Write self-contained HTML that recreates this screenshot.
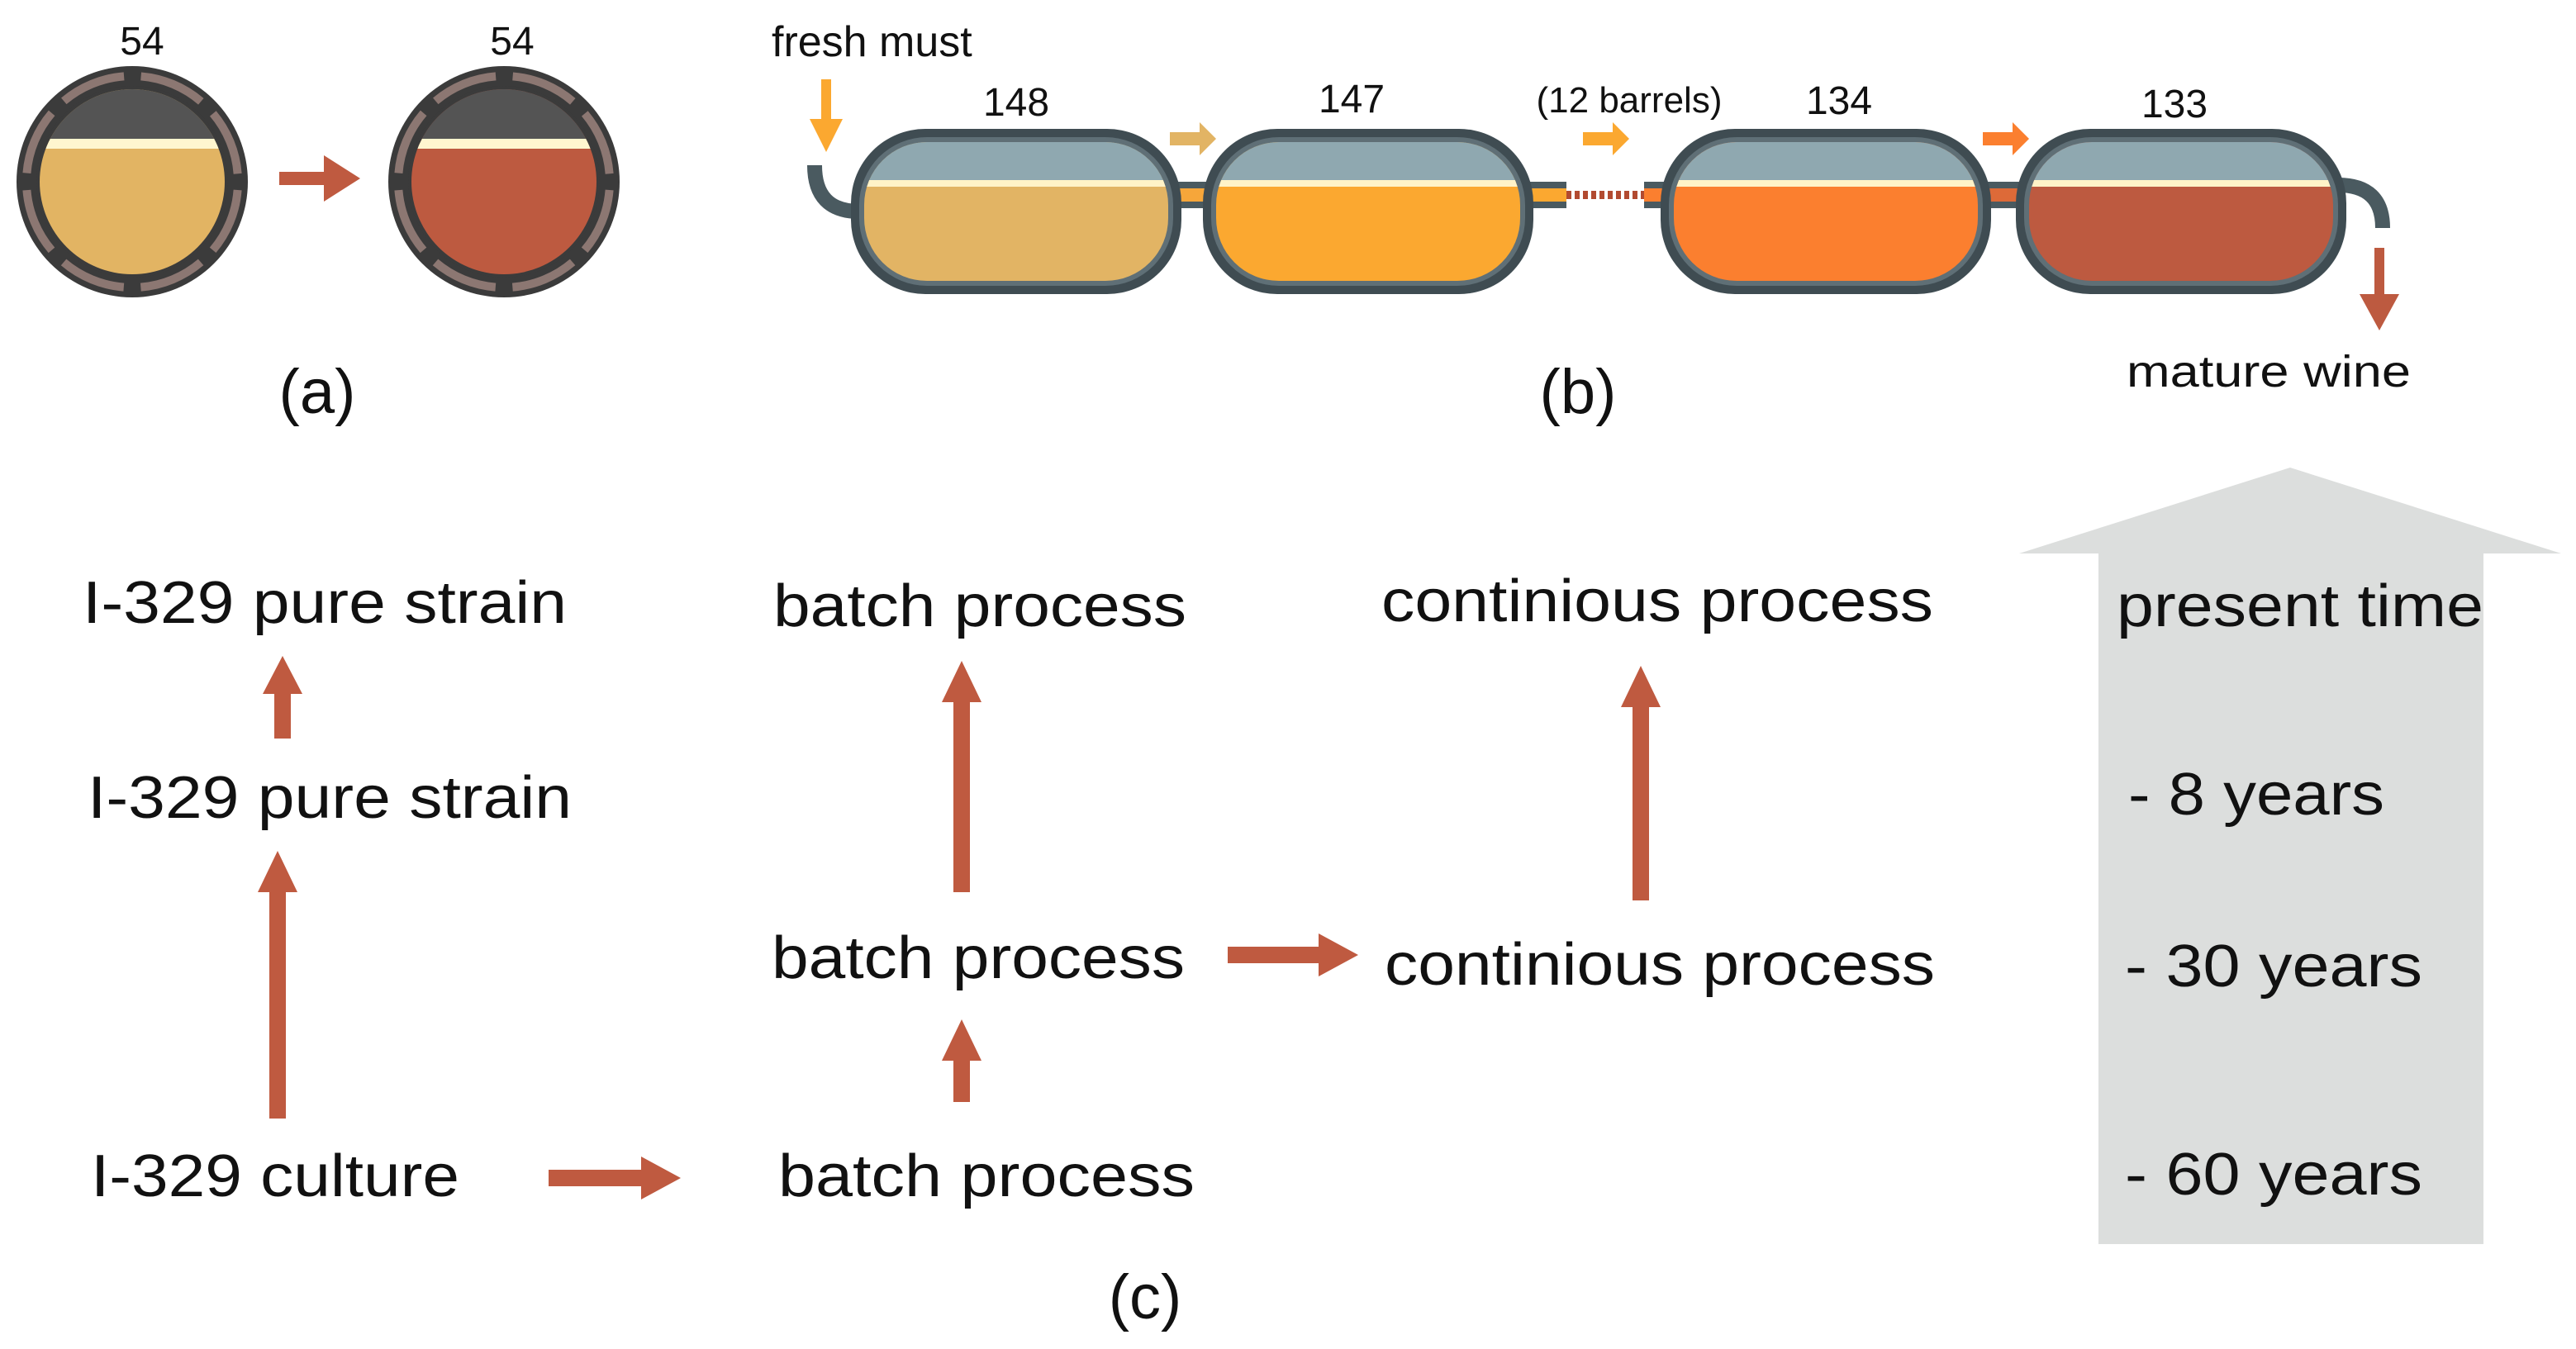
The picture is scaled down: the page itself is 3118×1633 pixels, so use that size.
<!DOCTYPE html>
<html><head><meta charset="utf-8"><style>
html,body{margin:0;padding:0;background:#fff;}
svg{display:block;}
text{font-family:"Liberation Sans",Arial,sans-serif;fill:#111;}
</style></head><body>
<svg width="3118" height="1633" viewBox="0 0 1559 816.5" xmlns="http://www.w3.org/2000/svg">
<defs>
<clipPath id="c1"><circle cx="80" cy="110" r="56"/></clipPath>
<clipPath id="c2"><circle cx="305" cy="110" r="56"/></clipPath>
<clipPath id="b1"><rect x="523" y="86" width="184" height="84" rx="38"/></clipPath>
<clipPath id="b2"><rect x="736" y="86" width="184" height="84" rx="38"/></clipPath>
<clipPath id="b3"><rect x="1013" y="86" width="184" height="84" rx="38"/></clipPath>
<clipPath id="b4"><rect x="1228" y="86" width="184" height="84" rx="38"/></clipPath>
</defs>

<!-- (a) -->
<text x="86" y="33" font-size="24" text-anchor="middle">54</text>
<text x="310" y="33" font-size="24" text-anchor="middle">54</text>
<g>
<circle cx="80" cy="110" r="70" fill="#3b3b3b"/>
<circle cx="80" cy="110" r="64" fill="none" stroke="#8c7772" stroke-width="5" stroke-dasharray="40 10.3" stroke-dashoffset="-5"/>
<circle cx="80" cy="110" r="58" fill="#3b3b3b"/>
<g clip-path="url(#c1)">
<rect x="20" y="40" width="120" height="140" fill="#e2b463"/>
<rect x="20" y="40" width="120" height="44" fill="#545454"/>
<rect x="20" y="84" width="120" height="6" fill="#fff6cf"/>
</g>
</g>
<g>
<circle cx="305" cy="110" r="70" fill="#3b3b3b"/>
<circle cx="305" cy="110" r="64" fill="none" stroke="#8c7772" stroke-width="5" stroke-dasharray="40 10.3" stroke-dashoffset="-5"/>
<circle cx="305" cy="110" r="58" fill="#3b3b3b"/>
<g clip-path="url(#c2)">
<rect x="245" y="40" width="120" height="140" fill="#bd5a40"/>
<rect x="245" y="40" width="120" height="44" fill="#545454"/>
<rect x="245" y="84" width="120" height="6" fill="#fff6cf"/>
</g>
</g>
<polygon points="169,104 196,104 196,94 218,108 196,122 196,112 169,112" fill="#bf5a40"/>
<text x="192" y="250" font-size="38" text-anchor="middle">(a)</text>

<!-- (b) -->
<text x="467" y="34" font-size="26">fresh must</text>
<polygon points="497,48 503,48 503,72 510,72 500,92 490,72 497,72" fill="#fba830"/>
<path d="M493,100 Q493,128 520,128" fill="none" stroke="#4a5a60" stroke-width="9"/>
<path d="M1415,112 Q1442,112 1442,138" fill="none" stroke="#4a5a60" stroke-width="9"/>
<rect x="705" y="110" width="35" height="16" fill="#4a5a60"/>
<rect x="705" y="114" width="35" height="8" fill="#f6a63a"/>
<rect x="918" y="110" width="30" height="16" fill="#4a5a60"/>
<rect x="918" y="114" width="30" height="8" fill="#fba830"/>
<line x1="948" y1="118" x2="998" y2="118" stroke="#b24a30" stroke-width="5" stroke-dasharray="3 2"/>
<rect x="995" y="110" width="22" height="16" fill="#4a5a60"/>
<rect x="995" y="114" width="22" height="8" fill="#fb7f2f"/>
<rect x="1195" y="110" width="35" height="16" fill="#4a5a60"/>
<rect x="1195" y="114" width="35" height="8" fill="#dd6a38"/>
<g>
<rect x="515" y="78" width="200" height="100" rx="45" fill="#3f4c52"/>
<rect x="520" y="83" width="190" height="90" rx="41" fill="#5f6f76"/>
<g clip-path="url(#b1)"><rect x="515" y="78" width="200" height="100" fill="#e2b464"/><rect x="515" y="78" width="200" height="31" fill="#8fa8b0"/><rect x="515" y="109" width="200" height="4" fill="#fff3c8"/></g>
</g>
<g>
<rect x="728" y="78" width="200" height="100" rx="45" fill="#3f4c52"/>
<rect x="733" y="83" width="190" height="90" rx="41" fill="#5f6f76"/>
<g clip-path="url(#b2)"><rect x="728" y="78" width="200" height="100" fill="#fba830"/><rect x="728" y="78" width="200" height="31" fill="#8fa8b0"/><rect x="728" y="109" width="200" height="4" fill="#fff3c8"/></g>
</g>
<g>
<rect x="1005" y="78" width="200" height="100" rx="45" fill="#3f4c52"/>
<rect x="1010" y="83" width="190" height="90" rx="41" fill="#5f6f76"/>
<g clip-path="url(#b3)"><rect x="1005" y="78" width="200" height="100" fill="#fb7f2f"/><rect x="1005" y="78" width="200" height="31" fill="#8fa8b0"/><rect x="1005" y="109" width="200" height="4" fill="#fff3c8"/></g>
</g>
<g>
<rect x="1220" y="78" width="200" height="100" rx="45" fill="#3f4c52"/>
<rect x="1225" y="83" width="190" height="90" rx="41" fill="#5f6f76"/>
<g clip-path="url(#b4)"><rect x="1220" y="78" width="200" height="100" fill="#bd5a40"/><rect x="1220" y="78" width="200" height="31" fill="#8fa8b0"/><rect x="1220" y="109" width="200" height="4" fill="#fff3c8"/></g>
</g>
<text x="615" y="70" font-size="24" text-anchor="middle">148</text>
<text x="818" y="68" font-size="24" text-anchor="middle">147</text>
<text x="986" y="68" font-size="22" text-anchor="middle">(12 barrels)</text>
<text x="1113" y="69" font-size="24" text-anchor="middle">134</text>
<text x="1316" y="71" font-size="24" text-anchor="middle">133</text>
<polygon points="708,80 726,80 726,74 736,84 726,94 726,88 708,88" fill="#e2b464"/>
<polygon points="958,80 976,80 976,74 986,84 976,94 976,88 958,88" fill="#fba830"/>
<polygon points="1200,80 1218,80 1218,74 1228,84 1218,94 1218,88 1200,88" fill="#fb7f2f"/>
<polygon points="1437,150 1443,150 1443,178 1452,178 1440,200 1428,178 1437,178" fill="#bd5a40"/>
<text x="1373" y="234" font-size="27" text-anchor="middle" textLength="172" lengthAdjust="spacingAndGlyphs">mature wine</text>
<text x="955" y="250" font-size="38" text-anchor="middle">(b)</text>

<!-- (c) -->
<polygon points="1386,283 1550,335 1503,335 1503,753 1270,753 1270,335 1222,335" fill="#dcdedd"/>
<g font-size="36">
<text x="50" y="377" textLength="293" lengthAdjust="spacingAndGlyphs">I-329 pure strain</text>
<text x="53" y="495" textLength="293" lengthAdjust="spacingAndGlyphs">I-329 pure strain</text>
<text x="55" y="724" textLength="223" lengthAdjust="spacingAndGlyphs">I-329 culture</text>
<text x="468" y="379" textLength="250" lengthAdjust="spacingAndGlyphs">batch process</text>
<text x="467" y="592" textLength="250" lengthAdjust="spacingAndGlyphs">batch process</text>
<text x="471" y="724" textLength="252" lengthAdjust="spacingAndGlyphs">batch process</text>
<text x="836" y="376" textLength="334" lengthAdjust="spacingAndGlyphs">continious process</text>
<text x="838" y="596" textLength="333" lengthAdjust="spacingAndGlyphs">continious process</text>
<text x="1281" y="379" textLength="222" lengthAdjust="spacingAndGlyphs">present time</text>
<text x="1288" y="493" textLength="155" lengthAdjust="spacingAndGlyphs">- 8 years</text>
<text x="1286" y="597" textLength="180" lengthAdjust="spacingAndGlyphs">- 30 years</text>
<text x="1286" y="723" textLength="180" lengthAdjust="spacingAndGlyphs">- 60 years</text>
</g>
<g fill="#bf5a40">
<polygon points="166,447 176,447 176,420 183,420 171,397 159,420 166,420"/>
<polygon points="163,677 173,677 173,540 180,540 168,515 156,540 163,540"/>
<polygon points="577,540 587,540 587,425 594,425 582,400 570,425 577,425"/>
<polygon points="577,667 587,667 587,642 594,642 582,617 570,642 577,642"/>
<polygon points="988,545 998,545 998,428 1005,428 993,403 981,428 988,428"/>
<polygon points="332,708 388,708 388,700 412,713 388,726 388,718 332,718"/>
<polygon points="743,573 798,573 798,565 822,578 798,591 798,583 743,583"/>
</g>
<text x="693" y="798" font-size="38" text-anchor="middle">(c)</text>
</svg>
</body></html>
